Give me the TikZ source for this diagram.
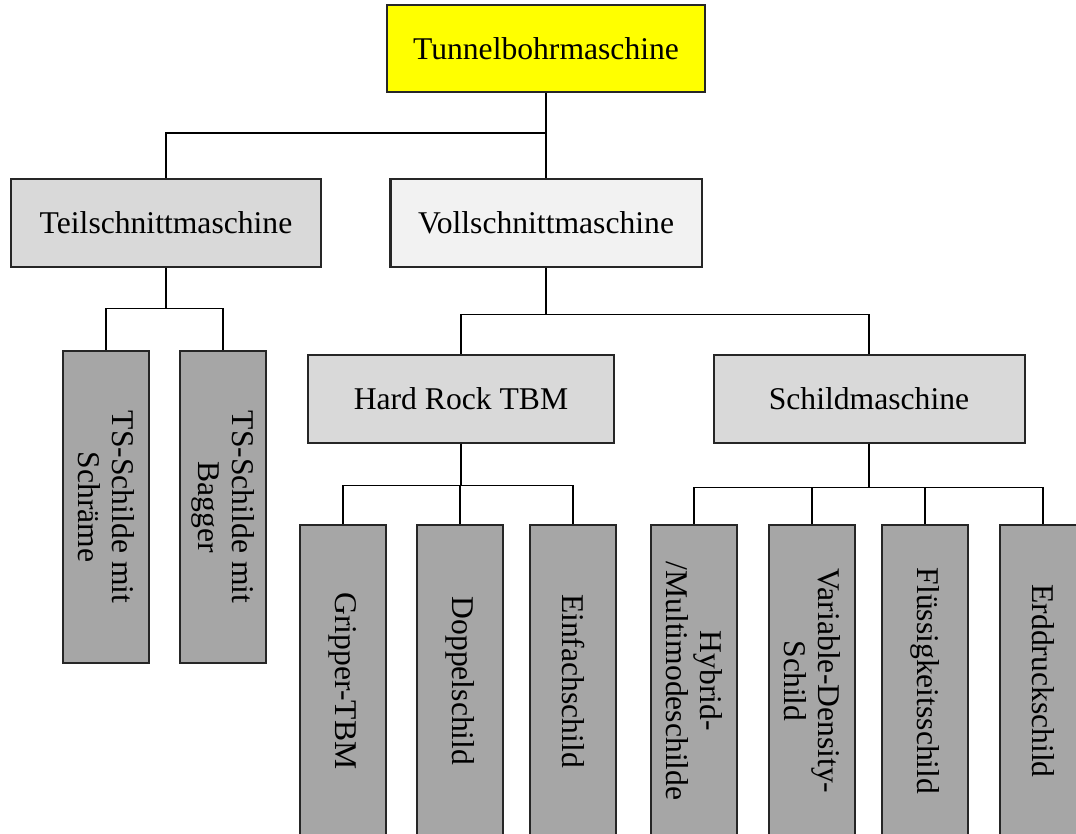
\documentclass[tikz,border=0pt]{standalone}
\usepackage{fontspec}
\setmainfont{Liberation Serif}

\definecolor{boxgelb}{HTML}{FFFF00}
\definecolor{boxhell}{HTML}{F2F2F2}
\definecolor{boxmittel}{HTML}{D9D9D9}
\definecolor{boxdunkel}{HTML}{A6A6A6}

\tikzset{
    kasten/.style={draw=black!85, line width=0.4mm, align=center,
        font=\fontsize{18}{19.5}\selectfont, inner sep=2pt,
        minimum width=62.2mm, minimum height=17.4mm},
    blatt/.style={kasten, fill=boxdunkel, rotate=-90,
        minimum width=62.4mm, minimum height=17.2mm},
    linie/.style={draw=black, line width=0.3mm}
}

\begin{document}
\begin{tikzpicture}[x=0.2mm, y=-0.2mm]

    % Frame (pixels of the original, y downwards)
    \def\breite{1076}
    \def\hoehe{834}
    \useasboundingbox (0,0) rectangle (\breite,\hoehe);
    \clip (0,0) rectangle (\breite,\hoehe);

    % Rows
    \def\yeins{48.5}   % top
    \def\yzwei{223}    % Teil-/Vollschnitt
    \def\ydrei{399}    % Hard Rock / Schild
    \def\yts{507}      % TS boxes
    \def\yvier{681}    % bottom leaves

    % Root
    \node[kasten, fill=boxgelb, minimum width=63.4mm] (tbm) at (546,\yeins) {Tunnelbohrmaschine};

    % Second level
    \node[kasten, fill=boxmittel, minimum width=61.8mm] (teil) at (166,\yzwei) {Teilschnittmaschine};
    \node[kasten, fill=boxhell] (voll) at (546,\yzwei) {Vollschnittmaschine};

    % Third level
    \node[kasten, fill=boxmittel, minimum width=61mm] (hr) at (461,\ydrei) {Hard Rock TBM};
    \node[kasten, fill=boxmittel] (schild) at (869,\ydrei) {Schildmaschine};

    % Leaves, Teilschnitt
    \node[blatt, minimum width=62.2mm] (tsa) at (106,\yts) {TS-Schilde mit\\Schräme};
    \node[blatt, minimum width=62.2mm] (tsb) at (223,\yts) {TS-Schilde mit\\Bagger};

    % Leaves, Vollschnitt
    \foreach \x/\n/\t in {343/grip/Gripper-TBM, 460/doppel/Doppelschild,
        573/einfach/Einfachschild, 694/hybrid/{Hybrid-\\/Multimodeschilde},
        812/vds/{Variable-Density-\\Schild}, 925/fluessig/Flüssigkeitsschild,
        1043/erd/Erddruckschild}{
        \node[blatt] (\n) at (\x,\yvier) {\t};
    }

    % Connectors
    \draw[linie] (tbm.south) -- ++(0,40) -| (teil.north);
    \draw[linie] (tbm.south) -- (voll.north);

    \foreach \n in {tsa,tsb}{
        \draw[linie] (teil.south) -- ++(0,41) -| (\n.west);
    }
    \foreach \n in {hr,schild}{
        \draw[linie] (voll.south) -- ++(0,47) -| (\n.north);
    }
    \foreach \n in {grip,doppel,einfach}{
        \draw[linie] (hr.south) -- ++(0,42) -| (\n.west);
    }
    \foreach \n in {hybrid,vds,fluessig,erd}{
        \draw[linie] (schild.south) -- ++(0,44) -| (\n.west);
    }

\end{tikzpicture}
\end{document}
